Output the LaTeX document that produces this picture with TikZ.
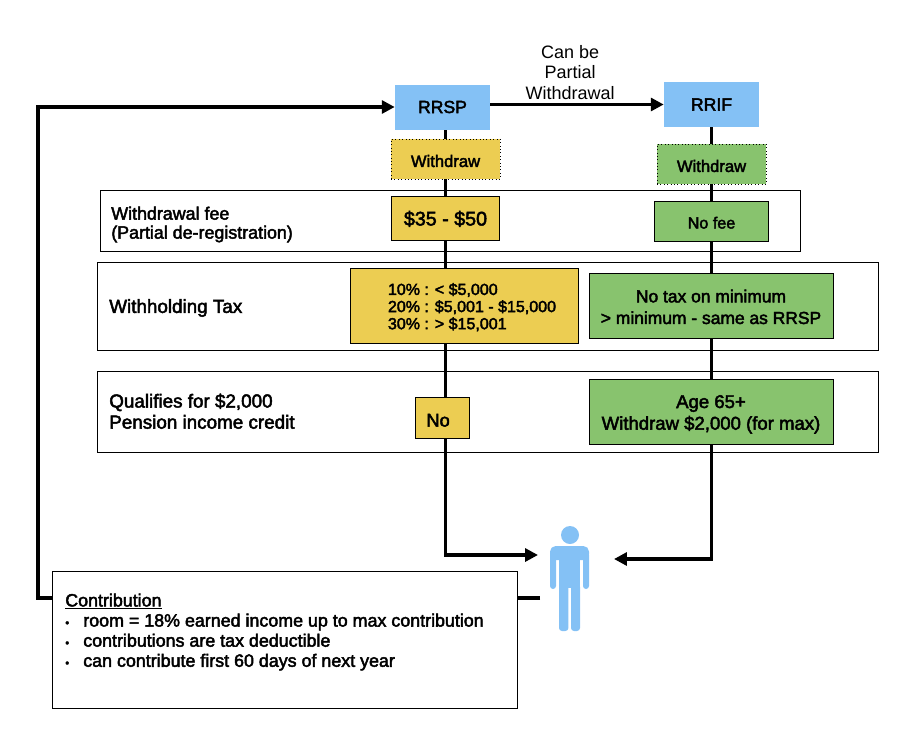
\documentclass[tikz,border=0pt]{standalone}
\usepackage{fontspec}
\setmainfont{Liberation Sans}
\newfontfamily\medfont{Liberation Sans}[FakeBold=2.5]
\usetikzlibrary{positioning,arrows.meta,backgrounds}
\definecolor{planblue}{HTML}{84C1F5}
\definecolor{planyellow}{HTML}{ECCD52}
\definecolor{plangreen}{HTML}{88C36E}
\newcommand{\tick}{\makebox[0.45cm][l]{\fontsize{8}{8}\selectfont\textbullet}}
\begin{document}
\begin{tikzpicture}[
  plan/.style={rectangle, fill=planblue, inner sep=0pt, minimum width=2.375cm, minimum height=1.125cm, font=\medfont\fontsize{12.5}{15}\selectfont},
  block/.style={rectangle, draw, thin, inner sep=0pt, align=center, font=\medfont\fontsize{12.4}{15.4}\selectfont},
  step_dot/.style={block, dotted, minimum width=2.725cm, minimum height=1cm, font=\medfont\fontsize{11.8}{13}\selectfont},
  row/.style={rectangle, draw, thin, inner sep=0pt},
  label/.style={anchor=west, align=left, inner sep=0pt, font=\medfont\fontsize{13.4}{15}\selectfont},
  limb/.style={fill=planblue, rounded corners=0.075cm},
  link/.style={-{Triangle[length=0.32cm,width=0.32cm]}, line width=2.5pt}
]
\useasboundingbox (0,0) rectangle (22.875,-18.65);

% Rows
\node[row, minimum width=17.5cm, minimum height=1.525cm] (fee_row) at (11.25,-5.5125) {};
\node[row, minimum width=19.525cm, minimum height=2.2cm] (tax_row) at (12.1875,-7.65) {};
\node[row, minimum width=19.525cm, minimum height=2.025cm] (credit_row) at (12.1875,-10.2875) {};
\node[label, font=\medfont\fontsize{12.7}{13.5}\selectfont] (fee_label) at (2.775,-5.6125) {Withdrawal fee\\(Partial de-registration)};
\node[label] (tax_label) at (2.725,-7.7) {Withholding Tax};
\node[label] (credit_label) at (2.725,-10.28) {Qualifies for \$2,000\\Pension income credit};

% RRSP path
\node[plan] (rrsp) at (11.0625,-2.675) {RRSP};
\node[step_dot, fill=planyellow] (wd_rrsp) at (11.1375,-3.975) {\rule{0pt}{11.4pt}Withdraw};
\node[block, fill=planyellow, below of=wd_rrsp, node distance=1.475cm, minimum width=2.7cm, minimum height=1.1cm, font=\medfont\fontsize{14}{16}\selectfont] (fee_rrsp) {\rule{0pt}{11.6pt}\$35 - \$50};
\node[block, fill=planyellow, minimum width=5.7cm, minimum height=1.875cm, font=\medfont\fontsize{11.4}{12.2}\selectfont, align=left] (tax_rrsp) at (11.6,-7.6375) {\rule{0pt}{10.8pt}\hspace*{0.4cm}10\% : < \$5,000\\\hspace*{0.4cm}20\% : \$5,001 - \$15,000\\\hspace*{0.4cm}30\% : > \$15,001};
\node[block, fill=planyellow, minimum width=1.35cm, minimum height=1.025cm, font=\medfont\fontsize{13}{15}\selectfont] (credit_rrsp) at (11.0625,-10.4375) {\rule{0pt}{13pt}No\hspace{0.22cm}};

% RRIF path
\node[plan, right of=rrsp, node distance=6.725cm, yshift=0.0625cm] (rrif) {RRIF};
\node[step_dot, fill=plangreen, below of=rrif, node distance=1.4875cm] (wd_rrif) {\rule{0pt}{11.4pt}Withdraw};
\node[block, fill=plangreen, below of=wd_rrif, node distance=1.425cm, minimum width=2.85cm, minimum height=1cm, font=\medfont\fontsize{11.5}{13}\selectfont] (fee_rrif) {\rule{0pt}{10.8pt}No fee};
\node[block, fill=plangreen, minimum width=6.1cm, minimum height=1.625cm] (tax_rrif) at (17.775,-7.6375) {\rule{0pt}{11pt}No tax on minimum\\> minimum - same as RRSP};
\node[block, fill=plangreen, below of=tax_rrif, node distance=2.65cm, minimum width=6.1cm, minimum height=1.625cm, font=\medfont\fontsize{13.2}{15.4}\selectfont] (credit_rrif) {\rule{0pt}{13.2pt}Age 65+\\Withdraw \$2,000 (for max)};

% Contribution
\node[row, fill=white, minimum width=11.625cm, minimum height=3.425cm] (contrib) at (7.1125,-15.9875) {};
\node[label, font=\medfont\fontsize{12.7}{14.3}\selectfont] (contrib_text) at (1.625,-15.8) {\underline{Contribution}\\
\tick room = 18\% earned income up to max contribution\\
\tick contributions are tax deductible\\
\tick can contribute first 60 days of next year};

% Person
\fill[planblue] (14.25,-13.375) circle (0.225cm);
\path[limb, rounded corners=0.14cm] (13.75,-13.65) rectangle (14.725,-14);
\path[limb] (13.75,-13.8) rectangle (13.9,-14.725);
\path[limb] (14.575,-13.8) rectangle (14.725,-14.725);
\path[fill=planblue] (13.975,-13.8) rectangle (14.5,-14.7);
\path[limb] (13.975,-14.6) rectangle (14.21,-15.775);
\path[limb] (14.275,-14.6) rectangle (14.5,-15.775);
\coordinate (person_in_left) at (13.45,-13.875);
\coordinate (person_in_right) at (15.35,-13.975);
\coordinate (return_start) at (13.5,-14.95);
\coordinate (return_turn) at (0.95,-14.95);

% Connections
\begin{scope}[on background layer]
\draw[link] (wd_rrsp |- rrsp.south) |- (person_in_left);
\draw[link] (rrif) |- (person_in_right);
\draw[link] (return_start) -- (return_turn) |- (rrsp);
\end{scope}
\draw[link] (rrsp.east |- rrif) -- (rrif) node[above,pos=0.46,yshift=0.015cm,align=center,inner sep=2pt,font=\fontsize{12.8}{14.6}\selectfont] (move_label) {Can be\\Partial\\Withdrawal};
\end{tikzpicture}
\end{document}
